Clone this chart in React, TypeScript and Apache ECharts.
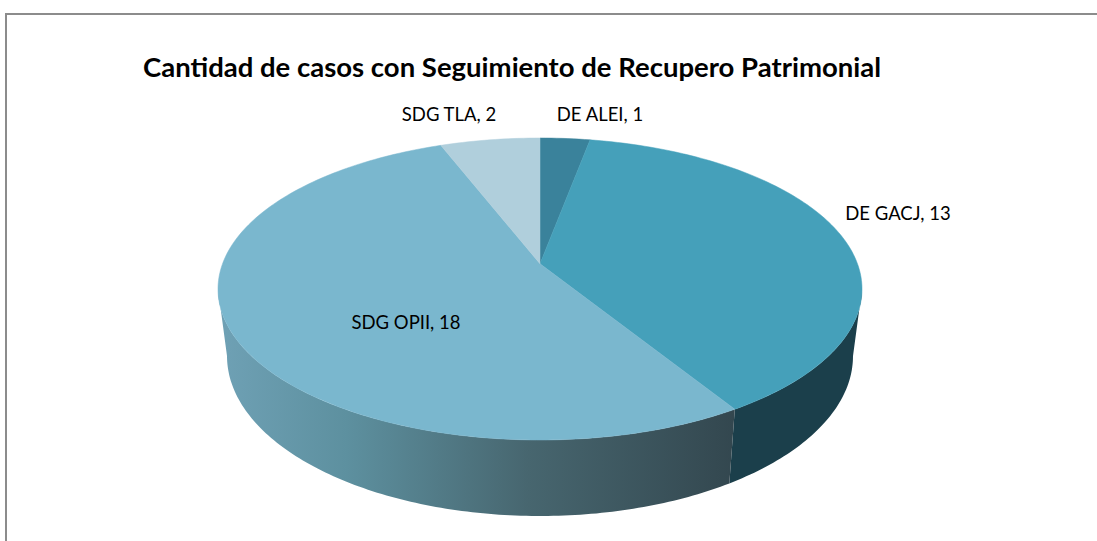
import React, { useEffect, useRef } from "react";
import * as echarts from "echarts";

const categories = ["DE ALEI", "DE GACJ", "SDG OPII", "SDG TLA"];
const seriesValues = [1, 13, 18, 2];
const topColors = ["#3a829b", "#45a0ba", "#7ab7ce", "#b0cfdc"];
const labelCenters = [
  [600, 114],
  [898, 213],
  [406, 322],
  [449, 114],
];
const titleText = "Cantidad de casos con Seguimiento de Recupero Patrimonial";

const TOP = { cx: 540, cy: 289, rx: 322, ry: 151 };
const BOTTOM = { cx: 540, cy: 356, rx: 313, ry: 160 };
const TILT = 0.167;
const total = seriesValues.reduce((a, b) => a + b, 0);

// Pie angle (clockwise from the top) to a position on the unit disc seen in perspective.
function project(angle: number) {
  const u = Math.sin(angle);
  const v = Math.cos(angle);
  const den = 1 + TILT * v;
  return [(u * Math.sqrt(1 - TILT * TILT)) / den, (v + TILT) / den];
}
function onEllipse(e: typeof TOP, p: number[]) {
  return [e.cx + e.rx * p[0], e.cy - e.ry * p[1]];
}
function ellipseParam(angle: number) {
  const p = project(angle);
  let t = Math.atan2(p[0], p[1]);
  if (t < 0) t += Math.PI * 2;
  return t;
}
function arcPoints(e: typeof TOP, t0: number, t1: number) {
  const pts: number[][] = [];
  const n = Math.max(2, Math.ceil((Math.abs(t1 - t0) / Math.PI) * 180));
  for (let i = 0; i <= n; i++) {
    const t = t0 + ((t1 - t0) * i) / n;
    pts.push(onEllipse(e, [Math.sin(t), Math.cos(t)]));
  }
  return pts;
}

function renderSlice(params: any, api: any) {
  const idx = params.dataIndex;
  const before = seriesValues.slice(0, idx).reduce((a, b) => a + b, 0);
  const a0 = (before / total) * Math.PI * 2;
  const a1 = ((before + api.value(1)) / total) * Math.PI * 2;
  const t0 = idx === 0 ? 0 : ellipseParam(a0);
  const t1 = idx === seriesValues.length - 1 ? Math.PI * 2 : ellipseParam(a1);
  const apex = onEllipse(TOP, [0, TILT]);
  const children: any[] = [];

  const w0 = Math.max(t0, Math.PI / 2);
  const w1 = Math.min(t1, Math.PI * 1.5);
  if (w1 > w0) {
    const isLit = w1 > Math.PI;
    const fill = isLit
      ? new echarts.graphic.LinearGradient(0, 0, 1, 0, [
          { offset: 0, color: "#6fa1b5" },
          { offset: 0.25, color: "#5d909f" },
          { offset: 0.6, color: "#47666f" },
          { offset: 1, color: "#33474f" },
        ])
      : "#1b3f4b";
    children.push({
      type: "polygon",
      shape: { points: arcPoints(TOP, w0, w1).concat(arcPoints(BOTTOM, w1, w0)) },
      style: { fill, stroke: "none" },
    });
  }
  children.push({
    type: "polygon",
    shape: { points: [apex].concat(arcPoints(TOP, t0, t1)) },
    style: { fill: topColors[idx], stroke: topColors[idx], lineWidth: 0.5 },
  });
  return { type: "group", children };
}

function renderLabel(params: any) {
  const idx = params.dataIndex;
  return {
    type: "text",
    z2: 10,
    style: {
      x: labelCenters[idx][0],
      y: labelCenters[idx][1],
      text: `${categories[idx]}, ${seriesValues[idx]}`,
      fill: "#000000",
      font: '18.5px "Lato", sans-serif',
      align: "center",
      verticalAlign: "middle",
    },
  };
}

export default function App() {
  const ref = useRef<HTMLDivElement>(null);
  useEffect(() => {
    document.body.style.margin = "0";
    const chart = echarts.init(ref.current!, undefined, { renderer: "svg" });
    const data = categories.map((c, i) => ({ name: c, value: [i, seriesValues[i]] }));
    chart.setOption({
      animation: false,
      backgroundColor: "#ffffff",
      xAxis: { show: false, type: "value" },
      yAxis: { show: false, type: "value" },
      grid: { left: 0, right: 0, top: 0, bottom: 0 },
      title: {
        text: titleText,
        left: 138,
        top: 47,
        textStyle: { fontFamily: "Lato", fontWeight: "bold", fontSize: 27.5, color: "#000000" },
      },
      graphic: [
        {
          type: "polyline",
          shape: { points: [[6, 541], [6, 14], [1097, 14]] },
          style: { stroke: "#8c8c8c", lineWidth: 2, fill: "none" },
        },
      ],
      series: [
        { type: "custom", coordinateSystem: "none", renderItem: renderSlice, data, silent: true, z: 2 },
        { type: "custom", coordinateSystem: "none", renderItem: renderLabel, data, silent: true, z: 3 },
      ],
    });
    return () => chart.dispose();
  }, []);
  return <div ref={ref} style={{ width: 1097, height: 541 }} />;
}
